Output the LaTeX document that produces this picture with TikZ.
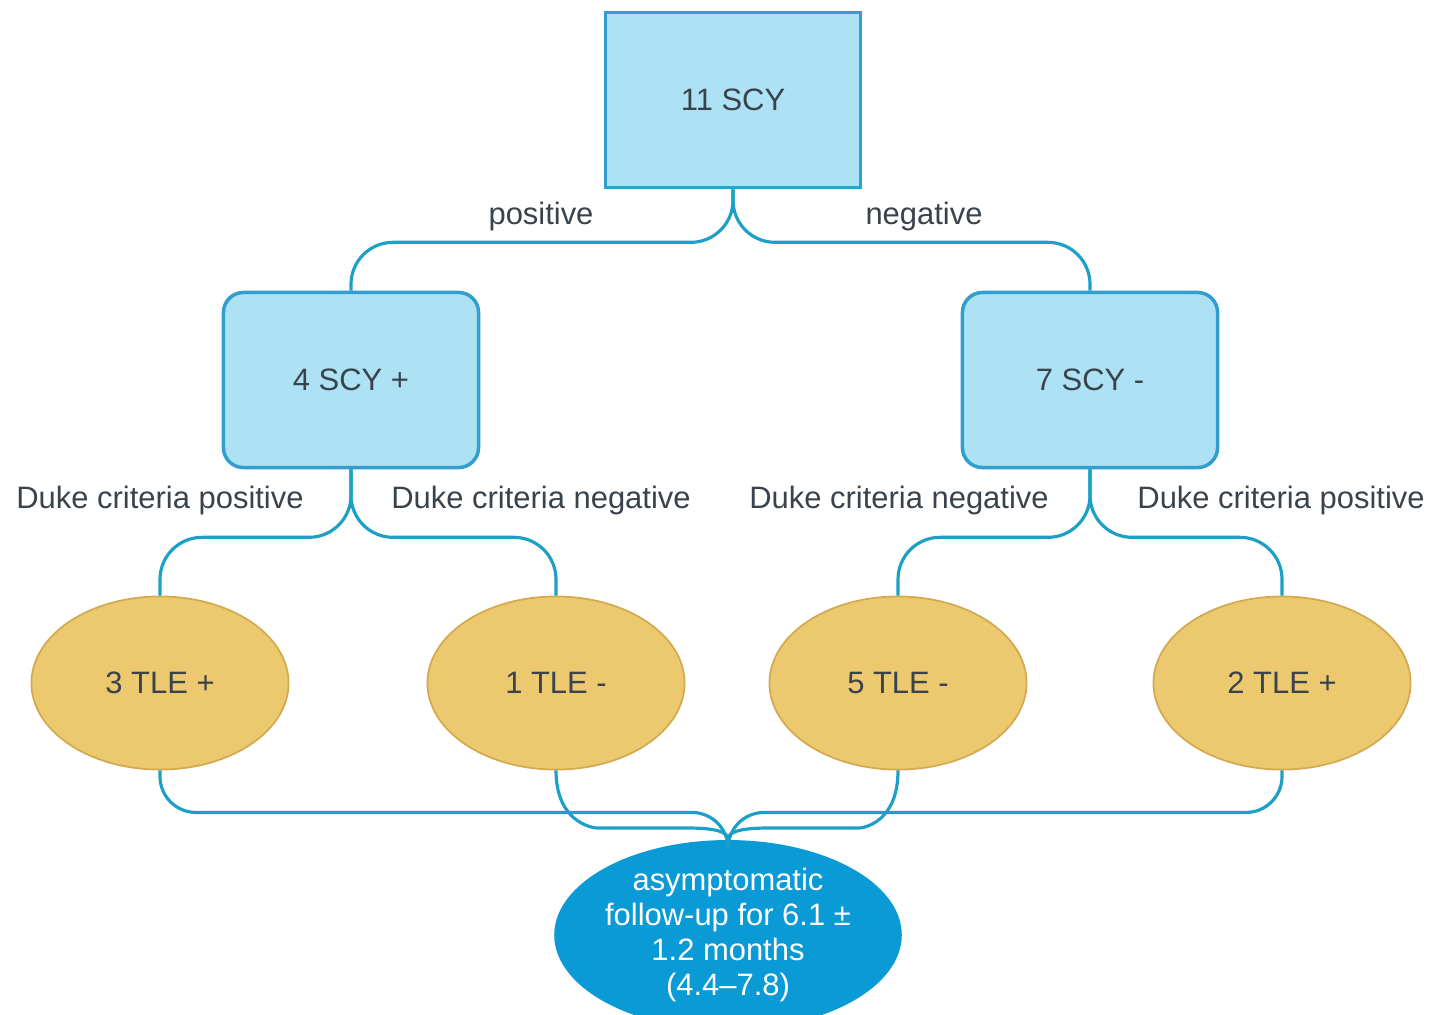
\documentclass[tikz,border=0pt]{standalone}
\usepackage{fontspec}
\setmainfont{Liberation Sans}
\usetikzlibrary{shapes.geometric}
\definecolor{boxfill}{RGB}{173,226,245}
\definecolor{boxline}{RGB}{50,158,205}
\definecolor{tlefill}{RGB}{236,200,110}
\definecolor{tleline}{RGB}{212,170,80}
\definecolor{fupfill}{RGB}{10,154,214}
\definecolor{linkcol}{RGB}{28,160,200}
\definecolor{txt}{RGB}{58,66,76}
\begin{document}
\begin{tikzpicture}[x=0.01cm, y=-0.01cm, font=\fontsize{8.8}{10}\selectfont,
    scy/.style={draw=boxline, fill=boxfill, line width=1pt, text=txt, minimum width=2.55cm, minimum height=1.75cm},
    tle/.style={ellipse, draw=tleline, fill=tlefill, line width=0.5pt, text=txt, inner sep=0pt, minimum width=2.57cm, minimum height=1.73cm},
    link/.style={draw=linkcol, line width=0.9pt, rounded corners=0.42cm},
    lab/.style={text=txt}]
    \clip (0,0) rectangle (1434,1014);
    \fill[white] (0,0) rectangle (1434,1014);
    % boxes
    \node[scy] (scy) at (733,100) {11 SCY};
    \node[scy, rounded corners=0.2cm] (scypos) at (351,380) {4 SCY +};
    \node[scy, rounded corners=0.2cm] (scyneg) at (1090,380) {7 SCY -};
    % echo results
    \node[tle] (tle1) at (160,683) {3 TLE +};
    \node[tle] (tle2) at (556,683) {1 TLE -};
    \node[tle] (tle3) at (898,683) {5 TLE -};
    \node[tle] (tle4) at (1282,683) {2 TLE +};
    \node[ellipse, fill=fupfill, text=white, inner sep=0pt, minimum width=3.46cm, minimum height=1.76cm, align=center] (fup) at (728,935)
        {asymptomatic\\follow-up for 6.1 ±\\1.2 months\\(4.4--7.8)};
    % connectors
    \draw[link] (scy.south) -- ++(0,53) -| (scypos.north);
    \draw[link] (scy.south) -- ++(0,53) -| (scyneg.north);
    \foreach \t in {tle1,tle2} \draw[link] (scypos.south) -- ++(0,68) -| (\t.north);
    \foreach \t in {tle3,tle4} \draw[link] (scyneg.south) -- ++(0,68) -| (\t.north);
    \foreach \t in {tle1,tle4} \draw[link, rounded corners=0.36cm] (\t.south) -- ++(0,42) -| (fup.north);
    \draw[link] (tle2.south) .. controls +(0,50) and +(-50,0) .. (640,828) .. controls +(55,0) and +(0,-12) .. (fup.north);
    \draw[link] (tle3.south) .. controls +(0,50) and +(50,0) .. (816,828) .. controls +(-55,0) and +(0,-12) .. (fup.north);
    % labels
    \node[lab] (lpos) at (541,216) {positive};
    \node[lab] (lneg) at (924,216) {negative};
    \node[lab] (d1) at (160,500) {Duke criteria positive};
    \node[lab] (d2) at (541,500) {Duke criteria negative};
    \node[lab] (d3) at (899,500) {Duke criteria negative};
    \node[lab] (d4) at (1281,500) {Duke criteria positive};
\end{tikzpicture}
\end{document}
